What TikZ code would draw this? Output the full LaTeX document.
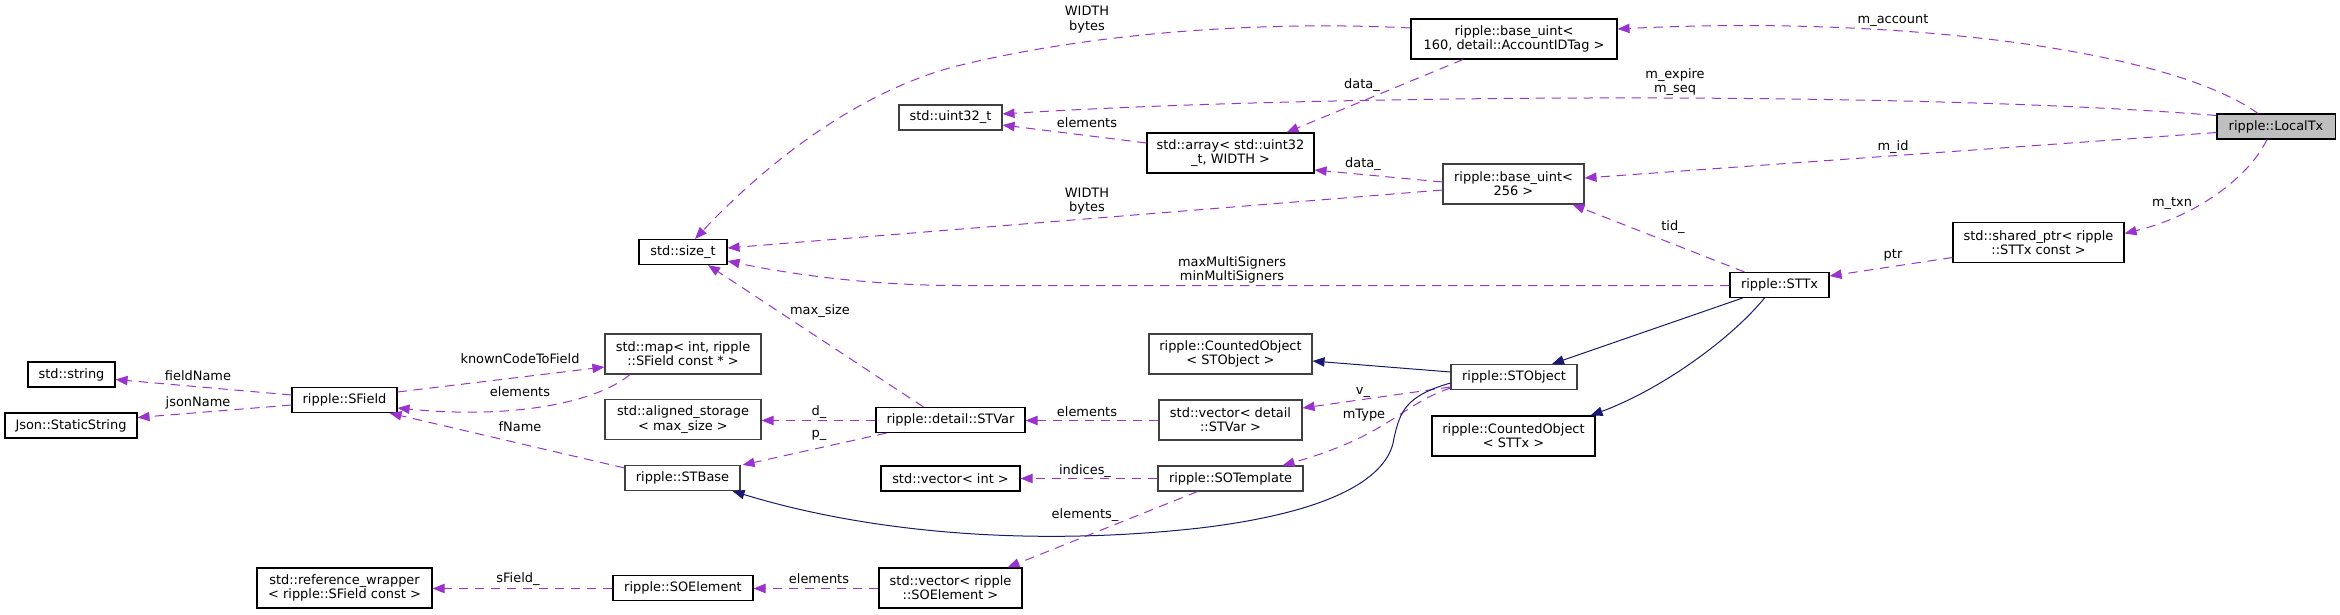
\documentclass[tikz,border=0pt]{standalone}
\usepackage{fontspec}
\setmainfont{DejaVu Sans}
\usetikzlibrary{arrows.meta,calc}
\definecolor{usecol}{HTML}{9A32CD}
\definecolor{inhcol}{HTML}{191970}
\definecolor{bordgray}{HTML}{404040}
\definecolor{fillgray}{HTML}{BFBFBF}
\tikzset{
  cls/.style={draw=black, line width=0.8pt, inner sep=0pt, align=center,
    font=\fontsize{9.7}{10.75}\selectfont, text=black},
  gcls/.style={cls, draw=bordgray},
  wh/.style 2 args={minimum width=#1*0.75pt, minimum height=#2*0.75pt},
  usedge/.style={draw=usecol, line width=0.75pt, dash pattern=on 7pt off 5pt,
    -{Triangle[length=9pt,width=7pt]}},
  inhedge/.style={draw=inhcol, line width=0.75pt, -{Triangle[length=9pt,width=7pt]}},
  lbl/.style={inner sep=0pt, align=center, font=\fontsize{9.7}{10.75}\selectfont, text=black},
}
\begin{document}
\begin{tikzpicture}[x=0.75pt,y=-0.75pt]
\useasboundingbox (0,0) rectangle (2340,614);
% nodes
\node[cls, fill=fillgray, wh={118}{25}] (localtx) at (2276,126.5) {ripple::LocalTx};
\node[cls, wh={206}{40}] (bu160) at (1514,39) {ripple::base\_uint<\\ 160, detail::AccountIDTag >};
\node[gcls, wh={103}{25}] (u32) at (950.5,117.5) {std::uint32\_t};
\node[cls, wh={167}{40}] (arr) at (1230.5,153) {std::array< std::uint32\\\_t, WIDTH >};
\node[gcls, wh={141}{40}] (bu256) at (1513.5,184) {ripple::base\_uint<\\256 >};
\node[cls, wh={88}{25}] (sizet) at (683,252) {std::size\_t};
\node[cls, wh={171}{40}] (sptr) at (2038.5,242.5) {std::shared\_ptr< ripple\\::STTx const >};
\node[cls, wh={99}{25}] (sttx) at (1779.5,285) {ripple::STTx};
\node[cls, wh={87}{25}] (str) at (71.5,374.5) {std::string};
\node[cls, wh={132}{25}] (json) at (71,425.5) {Json::StaticString};
\node[cls, wh={105}{25}] (sfield) at (344.5,400) {ripple::SField};
\node[gcls, wh={156}{40}] (map) at (683,354) {std::map< int, ripple\\::SField const * >};
\node[gcls, wh={156}{40}] (aligned) at (683,419.5) {std::aligned\_storage\\< max\_size >};
\node[gcls, wh={115}{25}] (stbase) at (682.5,478) {ripple::STBase};
\node[cls, wh={175}{40}] (refw) at (344.5,588) {std::reference\_wrapper\\< ripple::SField const >};
\node[cls, wh={140}{25}] (soel) at (683,588) {ripple::SOElement};
\node[cls, wh={149}{25}] (stvar) at (950.5,420) {ripple::detail::STVar};
\node[gcls, wh={143}{40}] (vstvar) at (1230.5,420) {std::vector< detail\\::STVar >};
\node[cls, wh={139}{25}] (vint) at (950.5,478.5) {std::vector< int >};
\node[gcls, wh={145}{25}] (sotpl) at (1230.5,478.5) {ripple::SOTemplate};
\node[cls, wh={143}{40}] (vsoel) at (950.5,588) {std::vector< ripple\\::SOElement >};
\node[gcls, wh={163}{40}] (costobj) at (1230.5,354) {ripple::CountedObject\\< STObject >};
\node[gcls, wh={126}{25}] (stobj) at (1514,377) {ripple::STObject};
\node[cls, wh={163}{40}] (costtx) at (1513.5,436) {ripple::CountedObject\\< STTx >};
% usage edges
\draw[usedge] ($(localtx.north)+(-18,0)$) .. controls (2170,50) and (1900,15) .. ($(bu160.east)+(0,-10)$);
\draw[usedge] ($(localtx.west)+(0,-11)$) .. controls (1900,90) and (1300,95) .. ($(u32.east)+(0,-3.5)$);
\draw[usedge] ($(localtx.west)+(0,6)$) -- ($(bu256.east)+(0,-6)$);
\draw[usedge] ($(localtx.south)+(-9,0)$) .. controls (2250,175) and (2200,215) .. ($(sptr.east)+(0,-9)$);
\draw[usedge] ($(sptr.west)+(0,15)$) -- ($(sttx.east)+(0,-9)$);
\draw[usedge] ($(sttx.north)+(-35,0)$) -- ($(bu256.south)+(59,0)$);
\coordinate (mmbend) at (960,285.5);
\draw[usedge] ($(sttx.west)+(0,0.5)$) -- (mmbend) .. controls (860,285.5) and (780,272) .. ($(sizet.east)+(0,9)$);
\draw[usedge] ($(bu256.west)+(0,6)$) -- ($(sizet.east)+(0,-4)$);
\draw[usedge] ($(bu256.west)+(0,-2)$) -- ($(arr.east)+(0,17)$);
\draw[usedge] ($(bu160.south)+(-51,0)$) -- ($(arr.north)+(56,0)$);
\coordinate (wbmid) at (953,67);
\draw[usedge] ($(bu160.west)+(0,-11)$) .. controls (1250,20) and (1080,35) .. (wbmid) .. controls (850,95) and (760,170) .. ($(sizet.north)+(12,0)$);
\draw[usedge] ($(arr.west)+(0,-10)$) -- ($(u32.east)+(0,7.5)$);
\draw[usedge] ($(stobj.west)+(0,10)$) -- ($(vstvar.east)+(0,-12)$);
\draw[usedge] ($(stobj.west)+(0,11)$) .. controls (1400,405) and (1390,435) .. ($(sotpl.north)+(52,0)$);
\draw[usedge] ($(stvar.north)+(-27,0)$) -- ($(sizet.south)+(25,0)$);
\draw[usedge] ($(stvar.west)+(0,0.5)$) -- ($(aligned.east)+(0,1)$);
\draw[usedge] ($(stvar.south)+(-64,0)$) -- ($(stbase.north east)+(2,0)$);
\draw[usedge] ($(vstvar.west)+(0,0.5)$) -- ($(stvar.east)+(0,0.5)$);
\draw[usedge] (sotpl.west) -- (vint.east);
\draw[usedge] ($(sotpl.south)+(-33,0)$) -- ($(vsoel.north)+(57,0)$);
\draw[usedge] ($(vsoel.west)+(0,0.5)$) -- ($(soel.east)+(0,0.5)$);
\draw[usedge] ($(soel.west)+(0,0.5)$) -- ($(refw.east)+(0,0.5)$);
\draw[usedge] ($(stbase.north west)+(0,3)$) -- ($(sfield.south)+(45,0)$);
\draw[usedge] ($(sfield.east)+(0,-8)$) -- ($(map.west)+(0,13)$);
\draw[usedge] ($(map.south)+(-53,0)$) .. controls (600,400) and (520,420) .. ($(sfield.east)+(0,8)$);
\draw[usedge] ($(sfield.west)+(0,-5)$) -- ($(str.east)+(0,5)$);
\draw[usedge] ($(sfield.west)+(0,5)$) -- ($(json.east)+(0,-8)$);
% inheritance edges
\draw[inhedge] ($(sttx.south)+(-37,0)$) -- ($(stobj.north)+(38,0)$);
\draw[inhedge] ($(sttx.south)+(-15,0)$) .. controls (1730,340) and (1660,390) .. ($(costtx.north east)+(-5,0)$);
\draw[inhedge] ($(stobj.west)+(0,-5)$) -- ($(costobj.east)+(0,7)$);
\coordinate (ib1) at (1394,438);
\coordinate (ib2) at (1200,528);
\draw[inhedge] ($(stobj.west)+(0,6)$) .. controls (1405,396) and (1400,412) .. (ib1) .. controls (1390,470) and (1350,510) .. (ib2) .. controls (1020,548) and (860,530) .. ($(stbase.south)+(50,0)$);
% labels
\node[lbl] (l1) at (1893,20) {m\_account};
\node[lbl] (l2) at (1675,82) {m\_expire\\m\_seq};
\node[lbl] (l3) at (1893,147) {m\_id};
\node[lbl] (l4) at (2172,203) {m\_txn};
\node[lbl] (l5) at (1893,255) {ptr};
\node[lbl] (l6) at (1673,227) {tid\_};
\node[lbl] (l7) at (1232,270) {maxMultiSigners\\minMultiSigners};
\node[lbl] (l8) at (1087,201) {WIDTH\\bytes};
\node[lbl] (l9) at (1363,164) {data\_};
\node[lbl] (l10) at (1362,85) {data\_};
\node[lbl] (l11) at (1087,19.5) {WIDTH\\bytes};
\node[lbl] (l12) at (1087,123) {elements};
\node[lbl] (l16) at (1363,392) {v\_};
\node[lbl] (l17) at (1364,415) {mType};
\node[lbl] (l19) at (820,311) {max\_size};
\node[lbl] (l20) at (819,412) {d\_};
\node[lbl] (l21) at (819,435) {p\_};
\node[lbl] (l22) at (1087,412) {elements};
\node[lbl] (l23) at (1085,471) {indices\_};
\node[lbl] (l24) at (1085,515) {elements\_};
\node[lbl] (l25) at (819,579) {elements};
\node[lbl] (l26) at (518,579) {sField\_};
\node[lbl] (l27) at (520,427) {fName};
\node[lbl] (l28) at (520,359) {knownCodeToField};
\node[lbl] (l29) at (520,392) {elements};
\node[lbl] (l30) at (198,376) {fieldName};
\node[lbl] (l31) at (198,403) {jsonName};
\end{tikzpicture}
\end{document}
